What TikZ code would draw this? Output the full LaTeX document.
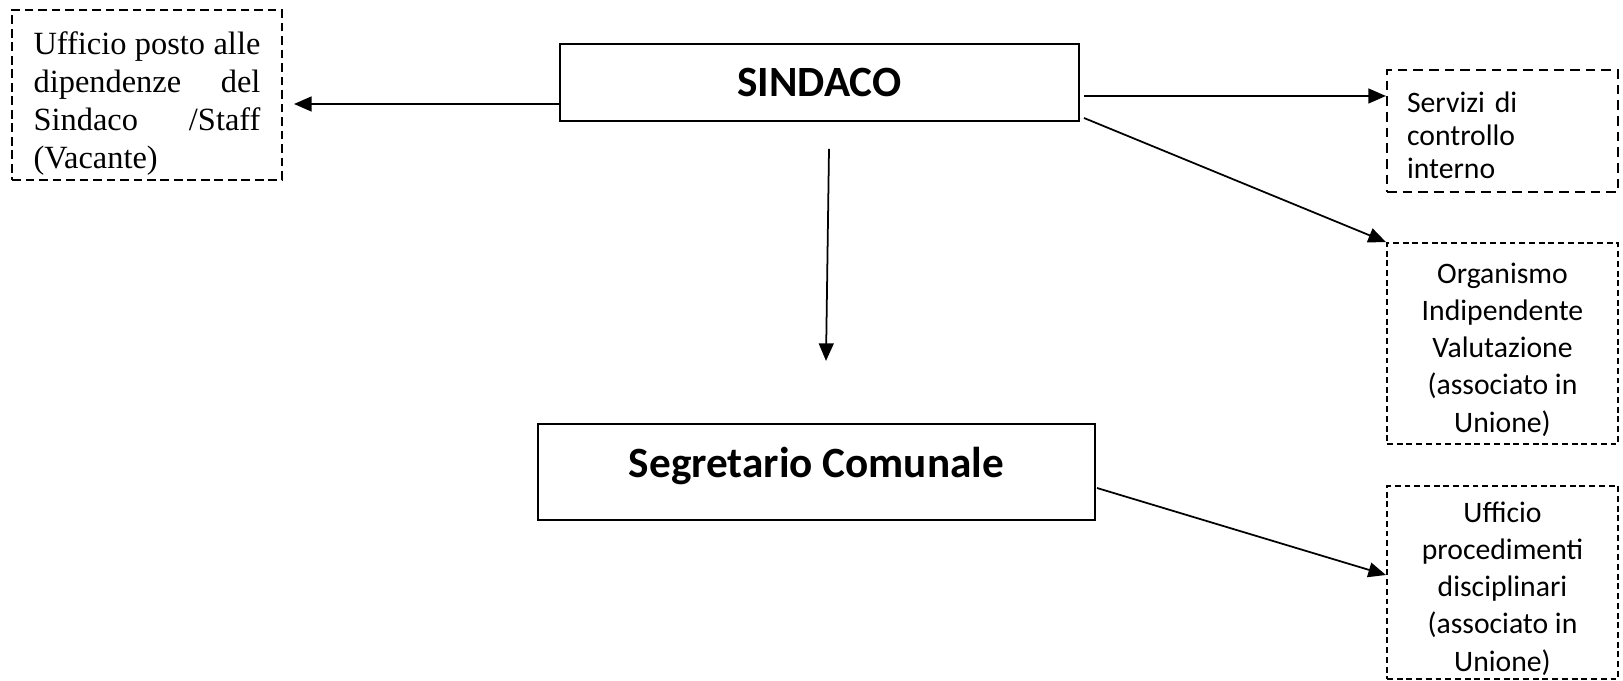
\documentclass[tikz,border=0pt]{standalone}
\usepackage{fontspec}
\setmainfont{Carlito}
\newfontfamily\timesf{Liberation Serif}
\usetikzlibrary{arrows.meta,calc}
\newcommand{\calf}{\fontsize{11}{13.8}\selectfont}
\newcommand{\cals}{\fontsize{11}{12.2}\selectfont}
\newcommand{\bigb}{\fontsize{16}{19}\selectfont\bfseries}
\tikzset{
  box/.style={draw, line width=0.75pt, inner sep=0pt, rectangle},
  dboxa/.style={box, dash pattern=on 3.3pt off 1.7pt},
  dboxb/.style={box, dash pattern=on 3.6pt off 2.2pt},
  dboxc/.style={box, dash pattern=on 2.2pt off 1.4pt},
  plain/.style={inner sep=0pt},
  arr/.style={line width=0.65pt, -{Triangle[length=6.5pt,width=5.5pt]}},
}
\begin{document}
\begin{tikzpicture}[x=0.37037pt,y=-0.37037pt]
\useasboundingbox (0,0) rectangle (1623,681);
\node[dboxa, minimum width=100pt, minimum height=62.96pt] (staff) at (147,95) {};
\node[plain, text width=84pt, align=left, font=\timesf\fontsize{12}{14.15}\selectfont] (stafftext)
  at ($(staff.center)+(0,8.5)$)
  {Ufficio\hfill posto\hfill alle\\dipendenze\hfill del\\Sindaco\hfill /Staff\\(Vacante)};
\node[box, minimum width=192.2pt, minimum height=28.5pt, font=\bigb] (sindaco) at (819.5,82.5) {SINDACO};
\node[box, minimum width=206.3pt, minimum height=35.6pt] (segr) at (816.5,472) {};
\node[font=\bigb, plain] (segrtext) at ($(segr.center)+(0,-6)$) {Segretario Comunale};
\node[dboxb, minimum width=85.6pt, minimum height=45.2pt] (servizi) at (1502.5,131) {};
\node[plain, text width=70.7pt, align=left, font=\cals] (servtext) at ($(servizi.center)+(0,4)$)
  {Servizi di\\controllo\\interno};
\node[dboxc, minimum width=85.6pt, minimum height=74.4pt] (oiv) at (1502.5,343.5) {};
\node[plain, align=center, font=\calf] (oivtext) at ($(oiv.center)+(0,6)$)
  {Organismo\\Indipendente\\Valutazione\\(associato in\\Unione)};
\node[dboxc, minimum width=85.6pt, minimum height=71.5pt] (upd) at (1502.5,582.5) {};
\node[plain, align=center, font=\calf] (updtext) at ($(upd.center)+(0,6)$)
  {Ufficio\\procedimenti\\disciplinari\\(associato in\\Unione)};
\draw[arr] ($(sindaco.west)+(0,21.5)$) -- ($(staff.east)+(11,9)$);
\coordinate (s1) at ($(sindaco.east)+(4,13.5)$);
\draw[arr] (s1) -- (s1 -| servizi.west);
\draw[arr] ($(sindaco.south east)+(4,-4)$) -- (oiv.north west);
\draw[arr] ($(sindaco.south)+(9.5,27)$) -- ($(segr.north)+(9.5,-62)$);
\draw[arr] ($(segr.east)+(1,16)$) -- ($(upd.west)+(0,-7.5)$);
\end{tikzpicture}
\end{document}
